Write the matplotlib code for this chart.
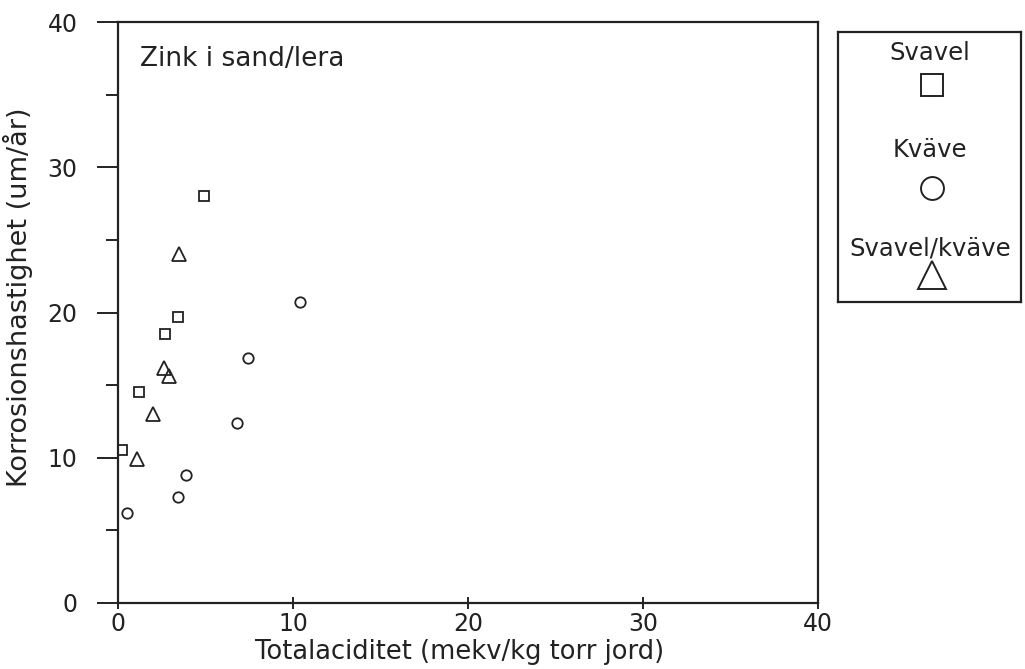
import matplotlib
matplotlib.use("Agg")
import matplotlib.pyplot as plt
from matplotlib.ticker import MultipleLocator

# data
svavel_x = [4.9, 3.4, 2.7, 1.2, 0.2]
svavel_y = [28.0, 19.7, 18.5, 14.5, 10.5]

kvave_x = [10.4, 7.4, 6.8, 3.9, 3.4, 0.5]
kvave_y = [20.7, 16.9, 12.4, 8.8, 7.3, 6.2]

sk_x = [3.5, 2.6, 2.9, 2.0, 1.1]
sk_y = [24.0, 16.2, 15.6, 13.0, 9.9]

series_names = ["Svavel", "Kväve", "Svavel/kväve"]
series_markers = ["s", "o", "^"]

plt.rcParams['font.family'] = ['DejaVu Sans']
W, H = 1025, 669
fig = plt.figure(figsize=(W / 100, H / 100), dpi=100)
ink = '#222222'

# main axes
ax = fig.add_axes([118 / W, 1 - 603 / H, 700 / W, 581 / H])
ms = dict(mfc='none', mec=ink, mew=1.3, ls='none')
ax.plot(svavel_x, svavel_y, marker='s', ms=7, **ms)
ax.plot(kvave_x, kvave_y, marker='o', ms=7.5, **ms)
ax.plot(sk_x, sk_y, marker='^', ms=9.5, **ms)

ax.set_xlim(0, 40)
ax.set_ylim(0, 40)
ax.xaxis.set_major_locator(MultipleLocator(10))
ax.yaxis.set_major_locator(MultipleLocator(10))
ax.yaxis.set_minor_locator(MultipleLocator(5))
ax.tick_params(axis='y', which='major', direction='out', length=15, width=1.4,
               pad=14, labelsize=17, color=ink, labelcolor=ink)
ax.tick_params(axis='y', which='minor', direction='out', length=8.5, width=1.4,
               color=ink)
ax.tick_params(axis='x', which='major', direction='inout', length=9, width=1.4,
               pad=2, labelsize=17, color=ink, labelcolor=ink)
for s in ax.spines.values():
    s.set_linewidth(1.6)
    s.set_color(ink)

ax.set_xlabel("Totalaciditet (mekv/kg torr jord)", fontsize=18.5, color=ink)
ax.xaxis.set_label_coords((460 - 118) / 700, (603 - 652) / 581)
ax.xaxis.label.set_verticalalignment('center')
ax.set_ylabel("Korrosionshastighet (um/år)", fontsize=19.5, color=ink)
ax.yaxis.set_label_coords((18 - 118) / 700, (603 - 297) / 581)
ax.yaxis.label.set_verticalalignment('center')
ax.text(0.032, 0.958, "Zink i sand/lera", transform=ax.transAxes, fontsize=19,
        va='top', ha='left', color=ink)

# legend box
lg = fig.add_axes([838 / W, 1 - 302 / H, 183 / W, 270 / H])
lg.set_xlim(0, 1)
lg.set_ylim(0, 1)
lg.set_xticks([])
lg.set_yticks([])
for s in lg.spines.values():
    s.set_linewidth(1.6)
    s.set_color(ink)

text_y = [0.922, 0.563, 0.2]
mark_y = [0.804, 0.422, 0.1]
mark_size = [16, 16.5, 20]
for name, m, ty, my, sz in zip(series_names, series_markers, text_y, mark_y, mark_size):
    lg.text(0.503, ty, name, ha='center', va='center', fontsize=17.5, color=ink)
    lg.plot([0.514], [my], marker=m, ms=sz, mfc='none', mec=ink, mew=1.4)

fig.savefig("out.png", dpi=100)
